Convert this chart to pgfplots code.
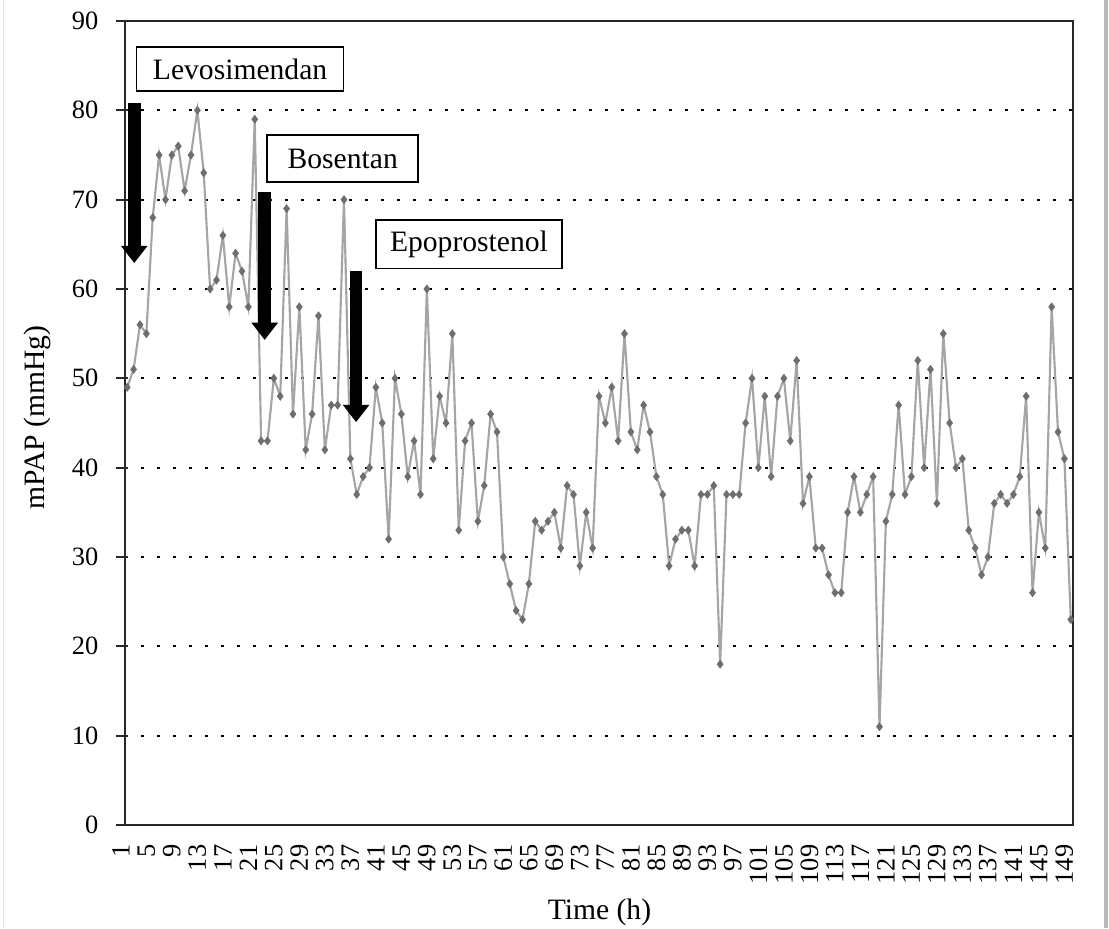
\documentclass[border=0pt]{standalone}
\usepackage{fontspec}
\setmainfont{Liberation Serif}
\usepackage{pgfplots}
\pgfplotsset{compat=1.18}
\usepackage{pgfplotstable}
\usetikzlibrary{arrows.meta}

% hourly mean pulmonary artery pressure
\pgfplotstableread{
t mpap
1 49
2 51
3 56
4 55
5 68
6 75
7 70
8 75
9 76
10 71
11 75
12 80
13 73
14 60
15 61
16 66
17 58
18 64
19 62
20 58
21 79
22 43
23 43
24 50
25 48
26 69
27 46
28 58
29 42
30 46
31 57
32 42
33 47
34 47
35 70
36 41
37 37
38 39
39 40
40 49
41 45
42 32
43 50
44 46
45 39
46 43
47 37
48 60
49 41
50 48
51 45
52 55
53 33
54 43
55 45
56 34
57 38
58 46
59 44
60 30
61 27
62 24
63 23
64 27
65 34
66 33
67 34
68 35
69 31
70 38
71 37
72 29
73 35
74 31
75 48
76 45
77 49
78 43
79 55
80 44
81 42
82 47
83 44
84 39
85 37
86 29
87 32
88 33
89 33
90 29
91 37
92 37
93 38
94 18
95 37
96 37
97 37
98 45
99 50
100 40
101 48
102 39
103 48
104 50
105 43
106 52
107 36
108 39
109 31
110 31
111 28
112 26
113 26
114 35
115 39
116 35
117 37
118 39
119 11
120 34
121 37
122 47
123 37
124 39
125 52
126 40
127 51
128 36
129 55
130 45
131 40
132 41
133 33
134 31
135 28
136 30
137 36
138 37
139 36
140 37
141 39
142 48
143 26
144 35
145 31
146 58
147 44
148 41
149 23
}\mpaptable

\definecolor{seriesline}{RGB}{165,165,165}
\definecolor{seriesmark}{RGB}{110,110,110}
\definecolor{framegray}{RGB}{40,40,40}

\begin{document}
\begin{tikzpicture}
\useasboundingbox (-46.875pt,-38.625pt) rectangle (369pt,309.375pt);
% outer page frame
\draw[gray!55, line width=1.6pt] (367.9pt,-38.625pt) -- (367.9pt,309.375pt);
\draw[gray!22, line width=0.5pt] (-45.5pt,-38.625pt) -- (-45.5pt,309.375pt);
\begin{axis}[
  at={(0,0)}, anchor=south west,
  scale only axis,
  width=355.5pt, height=301.5pt,
  xmin=0.65, xmax=149.35,
  ymin=0, ymax=90,
  xtick={1,5,...,149},
  ytick={0,10,...,90},
  ytick pos=left,
  xtick style={draw=none},
  ytick style={framegray, line width=0.7pt, xshift=-1.1pt},
  tick align=center,
  major tick length=4.5pt,
  axis line style={framegray, line width=0.8pt},
  ymajorgrids,
  grid style={black, line width=0.75pt, dash pattern=on 1.2pt off 4.8pt},
  /pgf/number format/assume math mode=true,
  tick label style={font=\fontsize{9.9}{11}\selectfont, black},
  xticklabel style={rotate=90, anchor=east, yshift=2.4pt, xshift=-1.6pt},
  yticklabel style={xshift=-4.2pt},
  xlabel={Time (h)},
  ylabel={mPAP (mmHg)},
  label style={font=\fontsize{11.1}{13}\selectfont},
  xlabel style={at={(axis description cs:0.5005,-0.1082)}, anchor=center},
  ylabel style={at={(axis description cs:-0.0923,0.507)}, anchor=center},
  clip=false,
]
\addplot[seriesline, line width=0.8pt,
  mark=diamond*, mark size=1.45pt,
  mark options={seriesmark, fill=seriesmark, line width=0.3pt}]
  table[x=t, y=mpap] {\mpaptable};

% drug start markers
\draw[black, line width=4.7pt, -{Triangle[width=9.6pt,length=6.5pt]}]
  (axis cs:2.1,80.8) -- (axis cs:2.1,62.9);
\draw[black, line width=4.7pt, -{Triangle[width=9.6pt,length=6.5pt]}]
  (axis cs:22.56,70.9) -- (axis cs:22.56,54.3);
\draw[black, line width=4.7pt, -{Triangle[width=9.6pt,length=6.5pt]}]
  (axis cs:36.9,62.0) -- (axis cs:36.9,45.1);

\tikzset{drugbox/.style={draw=black, line width=0.6pt, fill=white,
  inner sep=0pt, font=\fontsize{11.1}{13}\selectfont}}
\node[drugbox, minimum width=77.6pt, minimum height=16.5pt]
  at (axis cs:18.7,84.6) {Levosimendan};
\node[drugbox, minimum width=56.6pt, minimum height=17.5pt]
  at (axis cs:34.8,74.6) {Bosentan};
\node[drugbox, minimum width=69.75pt, minimum height=18.2pt]
  at (axis cs:54.6,65.0) {Epoprostenol};
\end{axis}
\end{tikzpicture}
\end{document}
